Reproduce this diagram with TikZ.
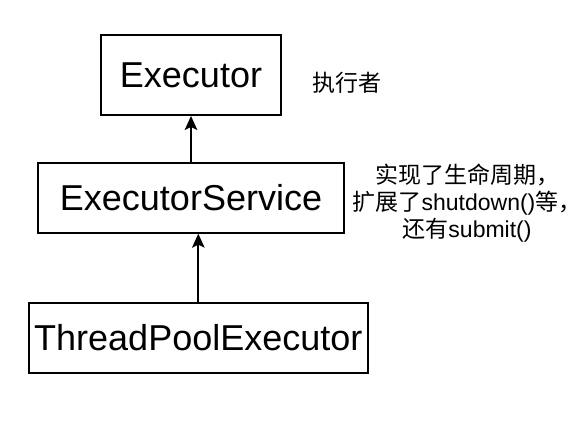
\documentclass[tikz,border=0pt]{standalone}
\usepackage{fontspec}
\setmainfont{Liberation Sans}
\newfontfamily\cjk{Noto Sans CJK SC}
\usetikzlibrary{arrows.meta}
\begin{document}
\begin{tikzpicture}[x=1pt,y=-1pt,
  cls/.style={draw=black,line width=1.9pt,minimum height=70pt,inner sep=0pt,font=\fontsize{36}{40}\selectfont},
  inherit/.style={-{Stealth[length=14pt,width=12.5pt,inset=3pt]},line width=1.9pt},
  note/.style={font=\fontsize{23}{27}\selectfont,align=center,inner sep=0pt}]
\useasboundingbox (0,0) rectangle (588,426);
\fill[white] (0,0) rectangle (588,426);
\node[cls,minimum width=180pt,minimum height=80pt] (ex) at (191,75) {Executor};
\node[cls,minimum width=306pt] (es) at (191,197.7) {ExecutorService};
\node[cls,minimum width=338.7pt] (tpe) at (198.3,337.7) {ThreadPoolExecutor};
\draw[inherit] (es.north) -- (ex.south);
\draw[inherit] (tpe.north) -- (tpe.north |- es.south);
\node[note] (n1) at (347,83) {\cjk 执行者};
\node[note] (n2) at (467,203) {{\cjk 实现了生命周期，}\\{\cjk 扩展了}shutdown(){\cjk 等，}\\{\cjk 还有}submit()};
\end{tikzpicture}
\end{document}
